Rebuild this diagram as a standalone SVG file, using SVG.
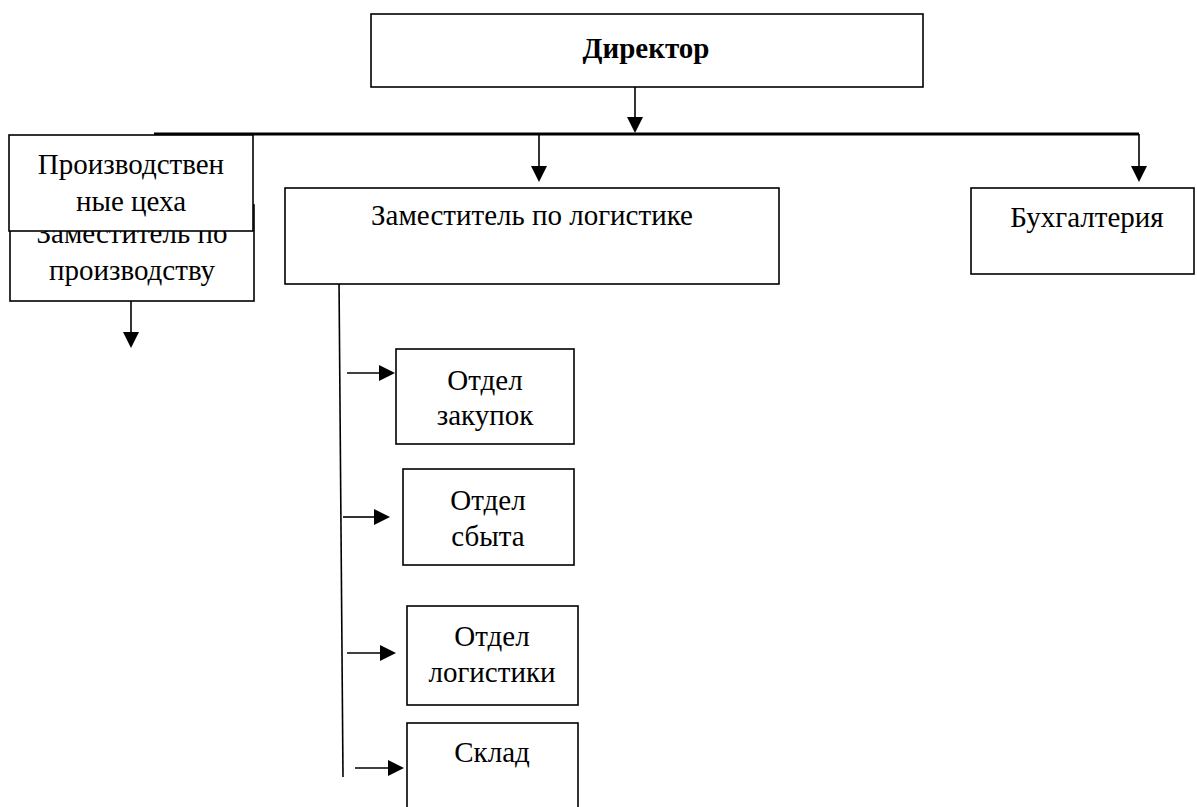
<svg xmlns="http://www.w3.org/2000/svg" width="1197" height="807" viewBox="0 0 1197 807">
<defs>
<style>
.box{fill:#fff;stroke:#000;stroke-width:1.6}
.t{font-family:"Liberation Serif","Times New Roman",serif;font-size:29px;fill:#000;text-anchor:middle}
.b{font-weight:bold}
.ln{stroke:#000;stroke-width:1.6;fill:none}
.thick{stroke:#000;stroke-width:3;fill:none}
</style>
</defs>
<rect width="1197" height="807" fill="#fff"/>
<g id="connectors">
<line class="ln" x1="635" y1="87" x2="635" y2="118"/>
<path d="M627,117 L643,117 L635,133 z"/>
<line class="thick" x1="154" y1="134" x2="1139" y2="134"/>
<line class="ln" x1="1139" y1="134" x2="1139" y2="167"/>
<path d="M1131,166 L1147,166 L1139,182 z"/>
<line class="ln" x1="539" y1="134" x2="539" y2="167"/>
<path d="M531,166 L547,166 L539,182 z"/>
<line class="ln" x1="131" y1="301" x2="131" y2="333"/>
<path d="M123,332 L139,332 L131,348 z"/>
<line class="ln" x1="339" y1="279" x2="343" y2="777"/>
<line class="ln" x1="347" y1="373" x2="380" y2="373"/>
<path d="M379,365 L395,373 L379,381 z"/>
<line class="ln" x1="343" y1="517" x2="375" y2="517"/>
<path d="M374,509 L390,517 L374,525 z"/>
<line class="ln" x1="347" y1="653" x2="381" y2="653"/>
<path d="M380,645 L396,653 L380,661 z"/>
<line class="ln" x1="355" y1="768" x2="389" y2="768"/>
<path d="M388,760 L404,768 L388,776 z"/>
</g>
<g id="director">
<rect class="box" x="371" y="14" width="552" height="73"/>
<text class="t b" x="646" y="58">Директор</text>
</g>
<g id="deputy-production">
<rect class="box" x="10" y="205" width="244" height="96"/>
<text class="t" x="132" y="243">Заместитель по</text>
<text class="t" x="132" y="280">производству</text>
</g>
<g id="production-shops">
<rect class="box" x="9" y="135" width="244" height="96"/>
<text class="t" x="131" y="174">Производствен</text>
<text class="t" x="131" y="211">ные цеха</text>
</g>
<g id="deputy-logistics">
<rect class="box" x="285" y="188" width="494" height="96"/>
<text class="t" x="532" y="225">Заместитель по логистике</text>
</g>
<g id="accounting">
<rect class="box" x="971" y="188" width="223" height="86"/>
<text class="t" x="1087" y="227">Бухгалтерия</text>
</g>
<g id="purchasing">
<rect class="box" x="396" y="349" width="178" height="95"/>
<text class="t" x="485" y="390">Отдел</text>
<text class="t" x="485" y="425">закупок</text>
</g>
<g id="sales">
<rect class="box" x="403" y="469" width="171" height="96"/>
<text class="t" x="488" y="510">Отдел</text>
<text class="t" x="488" y="546">сбыта</text>
</g>
<g id="logistics-dept">
<rect class="box" x="407" y="606" width="171" height="99"/>
<text class="t" x="492" y="646">Отдел</text>
<text class="t" x="492" y="682">логистики</text>
</g>
<g id="warehouse">
<rect class="box" x="407" y="723" width="171" height="100"/>
<text class="t" x="492" y="762">Склад</text>
</g>
</svg>
